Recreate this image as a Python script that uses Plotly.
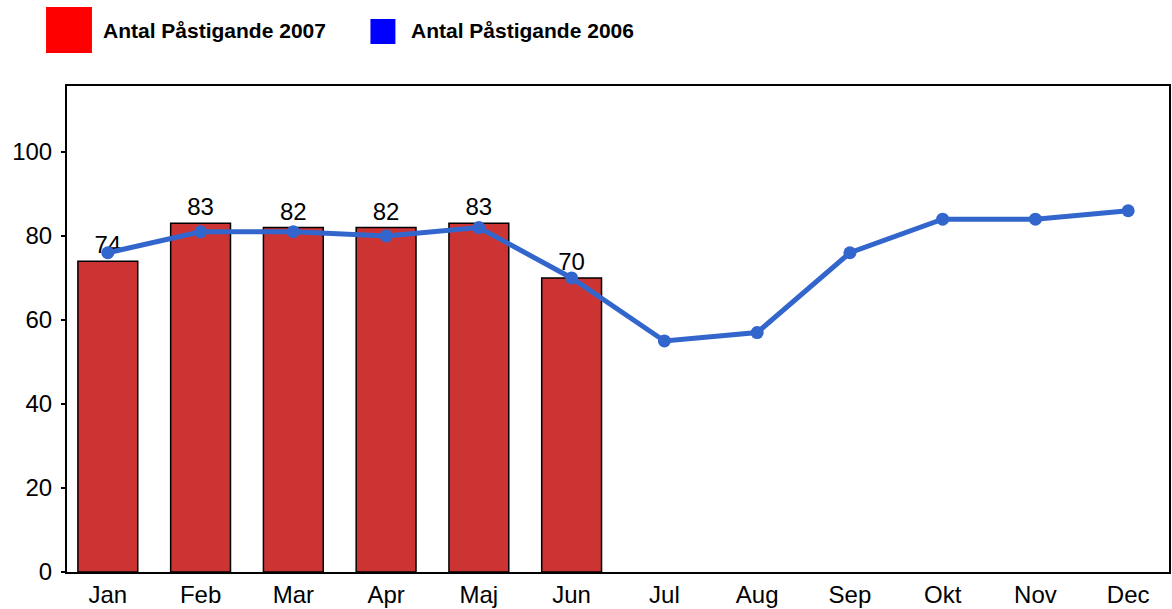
import plotly.graph_objects as go

months = ["Jan", "Feb", "Mar", "Apr", "Maj", "Jun", "Jul", "Aug", "Sep", "Okt", "Nov", "Dec"]
bars_2007 = [74, 83, 82, 82, 83, 70]
line_2006 = [76, 81, 81, 80, 82, 70, 55, 57, 76, 84, 84, 86]
name_2007 = "Antal Påstigande 2007"
name_2006 = "Antal Påstigande 2006"
y_ticks = [0, 20, 40, 60, 80, 100]

W, H = 1172, 609
ML, MR, MT, MB = 67, 1, 86, 37
PW, PH = W - ML - MR, H - MT - MB
FONT = "Liberation Sans, Arial, sans-serif"

def px(x):
    return (x - ML) / PW

def py(y):
    return (H - MB - y) / PH

fig = go.Figure()
fig.add_trace(go.Bar(
    x=months[:len(bars_2007)], y=bars_2007, name=name_2007,
    marker=dict(color="#CC3333", line=dict(color="black", width=1.5)),
    width=0.645,
    text=[str(v) for v in bars_2007], textposition="outside",
    textfont=dict(size=24, color="black", family=FONT),
    cliponaxis=False, showlegend=False,
))
fig.add_trace(go.Scatter(
    x=months, y=line_2006, name=name_2006, mode="lines+markers",
    line=dict(color="#3366CC", width=5),
    marker=dict(color="#3366CC", size=13),
    showlegend=False,
))

shapes = [
    dict(type="rect", xref="paper", yref="paper", x0=px(46), x1=px(92), y0=py(53), y1=py(7),
         fillcolor="#FF0000", line=dict(width=0)),
    dict(type="rect", xref="paper", yref="paper", x0=px(371), x1=px(396), y0=py(44), y1=py(19),
         fillcolor="#0000FF", line=dict(width=0)),
]
annotations = [
    dict(text="<b>" + name_2007 + "</b>", xref="paper", yref="paper", x=px(101), y=py(30),
         xanchor="left", yanchor="middle", showarrow=False,
         font=dict(size=21, color="black", family=FONT)),
    dict(text="<b>" + name_2006 + "</b>", xref="paper", yref="paper", x=px(410), y=py(30),
         xanchor="left", yanchor="middle", showarrow=False,
         font=dict(size=21, color="black", family=FONT)),
]

fig.update_layout(
    width=W, height=H,
    margin=dict(l=ML, r=MR, t=MT, b=MB, pad=0),
    paper_bgcolor="white", plot_bgcolor="white",
    font=dict(family=FONT, color="black", size=24),
    shapes=shapes, annotations=annotations,
    xaxis=dict(range=[-0.44, 11.44], showgrid=False, zeroline=False,
               showline=True, linecolor="black", linewidth=2, mirror=True,
               ticks="", tickfont=dict(size=24), fixedrange=True),
    yaxis=dict(range=[0, 115.7], tickvals=y_ticks, showgrid=False, zeroline=False,
               showline=True, linecolor="black", linewidth=2, mirror=True,
               ticks="outside", ticklen=4, tickwidth=1.5, tickcolor="black",
               ticklabelstandoff=4,
               tickfont=dict(size=24), fixedrange=True),
)

fig.write_html("out.html", config={"displayModeBar": False},
               post_script="document.body.style.margin='0';document.body.style.padding='0';")
